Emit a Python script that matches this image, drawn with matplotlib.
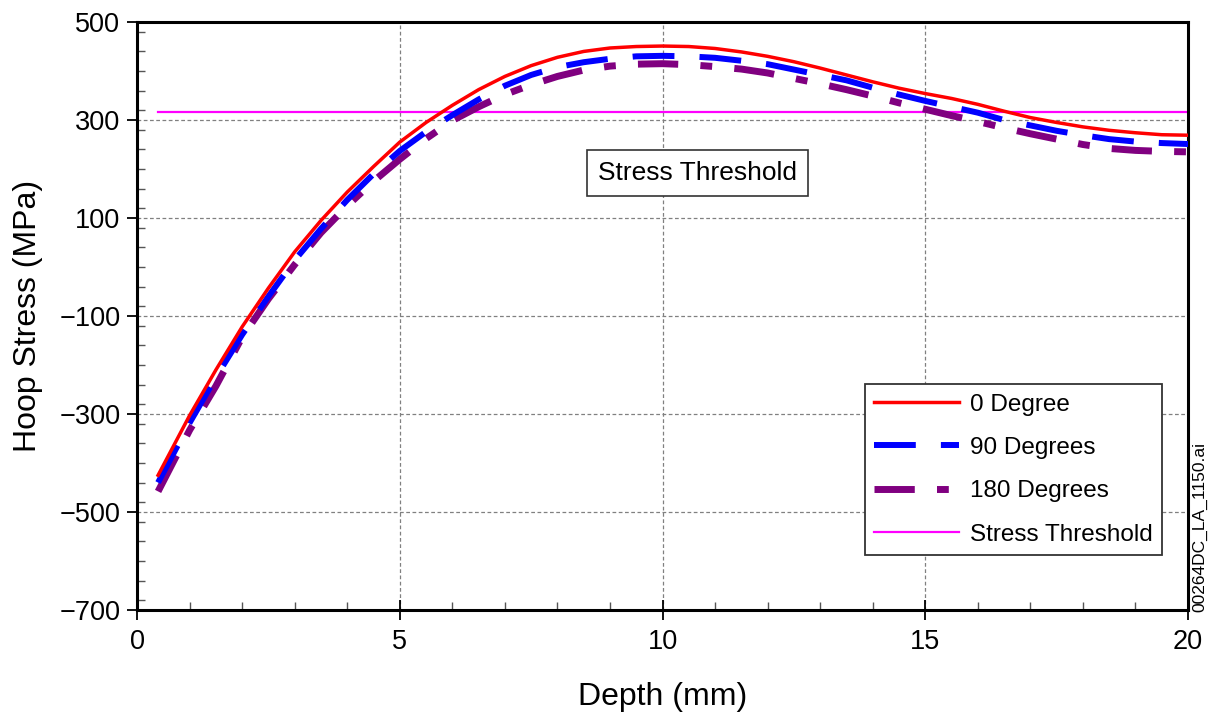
import matplotlib
matplotlib.use("Agg")
import matplotlib.pyplot as plt
from matplotlib.ticker import MultipleLocator

plt.rcParams['font.family'] = ['Liberation Sans', 'DejaVu Sans']

depth = [0.4, 1, 1.5, 2, 2.5, 3, 3.5, 4, 4.5, 5, 5.5, 6, 6.5, 7, 7.5, 8, 8.5, 9, 9.5, 10,
         10.5, 11, 11.5, 12, 12.5, 13, 13.5, 14, 14.5, 15, 15.5, 16, 16.5, 17, 17.5, 18,
         18.5, 19, 19.5, 20]
deg0 = [-425, -303, -210, -122, -43, 31, 95, 153, 205, 255, 295, 330, 362, 389, 411, 428,
        440, 447, 450, 451, 450, 446, 439, 430, 419, 406, 392, 378, 365, 354, 344, 332,
        318, 305, 295, 286, 279, 274, 270, 269]
deg90 = [-440, -318, -225, -138, -60, 14, 78, 137, 190, 237, 276, 310, 342, 370, 392, 408,
         418, 425, 430, 431, 430, 427, 421, 414, 403, 392, 381, 366, 352, 339, 327, 315,
         300, 289, 278, 269, 261, 256, 253, 251]
deg180 = [-458, -333, -243, -143, -65, 5, 70, 125, 175, 220, 262, 299, 327, 352, 372, 389,
          402, 410, 414, 415, 413, 409, 404, 396, 385, 374, 362, 349, 335, 322, 309, 297,
          284, 272, 261, 250, 242, 238, 236, 235]
threshold_x = [0.4, 20]
threshold_y = [317, 317]

x_ticks = [0, 5, 10, 15, 20]
y_ticks = [-700, -500, -300, -100, 100, 300, 500]

fig = plt.figure(figsize=(12.14, 7.2), dpi=100)
ax = fig.add_axes([0.1129, 0.1528, 0.9786 - 0.1129, 0.9694 - 0.1528])

ax.plot(depth, deg0, color='#FF0000', lw=2.5, label='0 Degree', zorder=5)
l90, = ax.plot(depth, deg90, color='#0000FF', lw=4.3, label='90 Degrees', zorder=4)
l90.set_dashes([7.0, 4.2])
l180, = ax.plot(depth, deg180, color='#800080', lw=5, label='180 Degrees', zorder=3)
l180.set_dashes([5.8, 3.2, 1.7, 3.2])
ax.plot(threshold_x, threshold_y, color='#FF00FF', lw=1.6, label='Stress Threshold', zorder=2)

ax.set_xlim(0, 20)
ax.set_ylim(-700, 500)
ax.set_xticks(x_ticks)
ax.set_yticks(y_ticks)
ax.xaxis.set_minor_locator(MultipleLocator(1))
ax.yaxis.set_minor_locator(MultipleLocator(40))

ax.tick_params(axis='x', which='major', direction='inout', length=14, width=1.3,
               labelsize=19.5, pad=7)
ax.tick_params(axis='y', which='major', direction='out', length=7, width=1.3,
               labelsize=19.5, pad=5)
ax.tick_params(which='minor', direction='in', length=6, width=1.0, color='#555555')

for s in ax.spines.values():
    s.set_linewidth(2.2)

ax.grid(True, which='major', color='#808080', linestyle=(0, (3, 2)), linewidth=0.9)
ax.set_axisbelow(True)

ax.set_xlabel('Depth (mm)', fontsize=23, labelpad=19)
ax.set_ylabel('Hoop Stress (MPa)', fontsize=23, labelpad=12)

leg = ax.legend(loc='lower right', bbox_to_anchor=(0.975, 0.0935), borderaxespad=0,
                fontsize=17.5, frameon=True, fancybox=False, edgecolor='#333333',
                framealpha=1, handlelength=3.5, labelspacing=0.88, borderpad=0.38,
                handletextpad=0.45)
leg.get_frame().set_linewidth(1.3)

ax.text(10.66, 192, 'Stress Threshold', fontsize=19, ha='center', va='center',
        bbox=dict(boxstyle='square,pad=0.42', facecolor='white', edgecolor='#333333', linewidth=1.2),
        zorder=6)

fig.text(0.9885, (720 - 612) / 720, '00264DC_LA_1150.ai', rotation=90, fontsize=12.5,
         ha='center', va='bottom')

fig.savefig('out.png', dpi=100)
